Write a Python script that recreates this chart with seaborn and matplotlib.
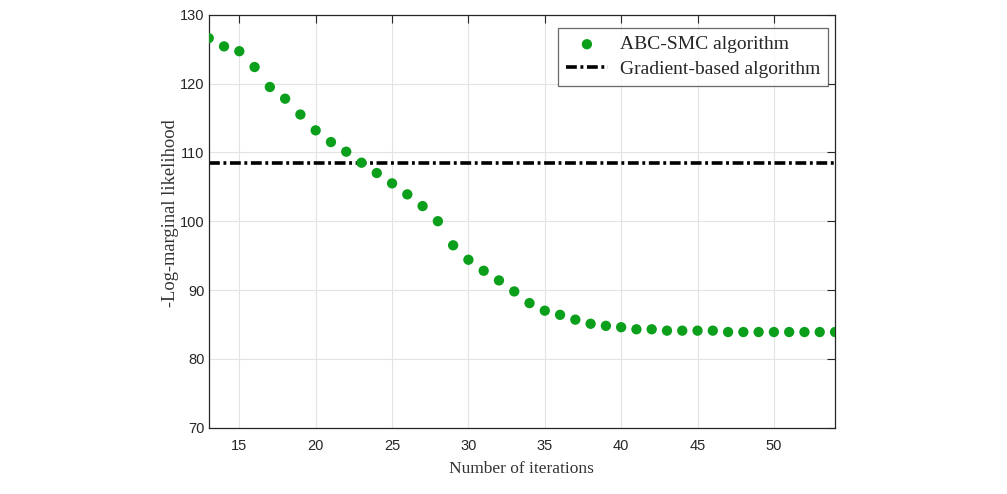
import numpy as np
import pandas as pd
import matplotlib
matplotlib.use("Agg")
import matplotlib.pyplot as plt
import seaborn as sns

# data
iterations = list(range(13, 55))
abc_smc = [126.6, 125.4, 124.7, 122.4, 119.5, 117.8, 115.5, 113.2, 111.5, 110.1,
           108.5, 107.0, 105.5, 103.9, 102.2, 100.0, 96.5, 94.4, 92.8, 91.4,
           89.8, 88.1, 87.0, 86.4, 85.7, 85.1, 84.8, 84.6, 84.3, 84.3,
           84.1, 84.1, 84.1, 84.1, 83.9, 83.9, 83.9, 83.9, 83.9, 83.9,
           83.9, 83.9]
gradient_value = 108.5
x_ticks = [15, 20, 25, 30, 35, 40, 45, 50]
y_ticks = [70, 80, 90, 100, 110, 120, 130]

df = pd.DataFrame({"iter": iterations, "nll": abc_smc})

sns.set_style("white")
plt.rcParams['font.family'] = ['Liberation Sans', 'DejaVu Sans']

fig = plt.figure(figsize=(10.07, 4.94), dpi=100)
ax = fig.add_axes([0.2073, 0.1342, 0.6219, 0.8360])

sns.scatterplot(data=df, x="iter", y="nll", ax=ax, color="#0b9f1b", s=55,
                edgecolor="none", label="ABC-SMC algorithm", zorder=3)
ax.axhline(gradient_value, color="black", lw=2.6, dashes=(3, 1, 0.8, 1),
           label="Gradient-based algorithm", zorder=2)

ax.set_xlim(13, 54)
ax.set_ylim(70, 130)
ax.set_xticks(x_ticks)
ax.set_yticks(y_ticks)
ax.grid(True, color="#e3e3e3", lw=0.8)
ax.tick_params(direction="in", length=6, width=0.8, colors="#262626",
               labelsize=10.5, top=True, right=True, labeltop=False, labelright=False)
ax.tick_params(axis="x", pad=8)
ax.tick_params(axis="y", pad=3)
for s in ax.spines.values():
    s.set_color("#262626")
    s.set_linewidth(0.9)

serif = ['Liberation Serif', 'DejaVu Serif']
ax.set_xlabel("Number of iterations", fontsize=12.5, family=serif, color="#333333", labelpad=6)
ax.set_ylabel("-Log-marginal likelihood", fontsize=13.3, family=serif, color="#333333")
ax.yaxis.set_label_coords(-0.047, 0.52)

leg = ax.legend(loc="upper right", bbox_to_anchor=(0.989, 0.968), borderaxespad=0,
                frameon=True, fancybox=False,
                prop={"family": serif, "size": 14}, handlelength=2.2, borderpad=0.4,
                labelspacing=0.35, handletextpad=0.6)
leg.get_frame().set_edgecolor("#444444")
leg.get_frame().set_linewidth(0.9)

fig.savefig("out.png", dpi=100)
